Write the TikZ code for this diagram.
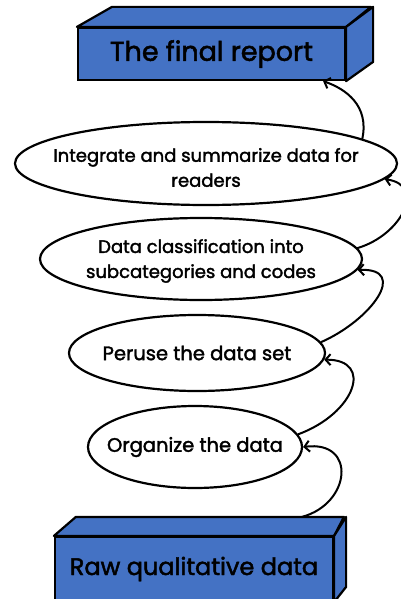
\documentclass[tikz,border=0pt]{standalone}
\usepackage{fontspec}
\setmainfont{Poppins}[FakeBold=1.9]
\usetikzlibrary{shapes.geometric,arrows.meta,calc}
\definecolor{boxblue}{RGB}{68,114,196}

\begin{document}
\begin{tikzpicture}[x=1pt,y=-1pt,
  stage/.style={ellipse,draw,line width=2.2pt,fill=white,inner sep=0pt},
  stagetext/.style={align=center,font=\fontsize{18}{25}\selectfont},
  bigtext/.style={align=center,font=\fontsize{19.5}{22}\selectfont},
  slab/.style={draw,line width=2.2pt,fill=boxblue,inner sep=0pt},
  face/.style={draw,line width=2.2pt,fill=boxblue,line join=round},
  flow/.style={line width=2pt,line cap=round,
               -{Straight Barb[length=5pt,width=11pt,line width=2pt]}}
]
\useasboundingbox (0,0) rectangle (400,599);

% output box at the top
\node[slab,minimum width=267pt,minimum height=52pt,font=\fontsize{27}{30}\selectfont] (report) at (211.5,54) {The final report};
\draw[face] (report.north west) -- ++(35,-20) -- ++(259,0) -- (report.north east) -- cycle;
\draw[face] (report.north east) -- ++(27,-20) -- ++(0,55) -- (report.south east) -- cycle;

% input box at the bottom
\node[slab,minimum width=278pt,minimum height=64pt,font=\fontsize{24}{28}\selectfont] (raw) at (194,569) {Raw qualitative data};
\draw[face] (raw.north west) -- ++(22,-19) -- ++(268,0) -- (raw.north east) -- cycle;
\draw[face] (raw.north east) -- ++(12,-19) -- ++(0,70) -- (raw.south east) -- cycle;

% processing stages
\node[stage,minimum width=382pt,minimum height=83pt,
      label={[stagetext,yshift=-4pt]center:{Integrate and summarize data for\\readers}}] (int) at (206,163.5) {};
\node[stage,minimum width=322pt,minimum height=82pt,
      label={[stagetext,yshift=-2pt]center:{Data classification into\\subcategories and codes}}] (dc) at (201,259) {};
\node[stage,minimum width=256pt,minimum height=76pt,
      label={[bigtext]center:Peruse the data set}] (peru) at (197,353) {};
\node[stage,minimum width=214pt,minimum height=82pt,
      label={[bigtext]center:Organize the data}] (org) at (195,447) {};

% connectors
\coordinate (rawtop) at ($(raw.north west)+(248,-19)$);
\coordinate (reportin) at ($(report.south east)+(-23,0)$);

\draw[flow] (rawtop) .. controls +(49,-13) and +(54,-7) .. (org.east);
\draw[flow] (org.7) .. controls +(57,-21) and +(50,0) .. (peru.-3);
\draw[flow] (peru.5) .. controls +(50,-22) and +(52,-2) .. (dc.-4);
\draw[flow] (dc.4) .. controls +(44,-13) and +(42,6) .. (int.-5);
\draw[flow] (int.9) .. controls +(7,-33) and +(23,8) .. (reportin);
\end{tikzpicture}
\end{document}
